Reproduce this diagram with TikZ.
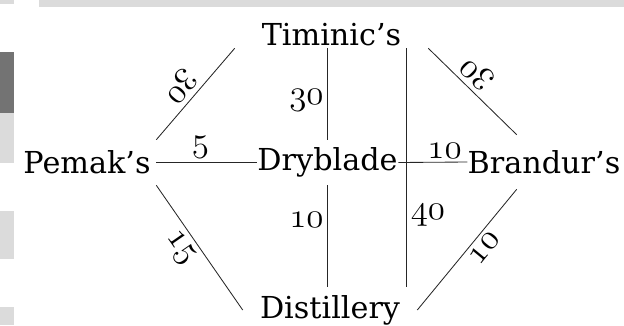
\documentclass[tikz,border=0pt]{standalone}
\usepackage{fontspec}
\setmainfont{DejaVu Serif}
\usepackage{tikz}
\usetikzlibrary{calc}
\newcommand{\dnum}[1]{{\usefont{OML}{cmm}{m}{it}#1}}
\tikzset{
  town/.style={rectangle, inner sep=0pt, align=center, font=\fontsize{21.5}{25}\selectfont},
  road/.style={draw=black!85, line width=0.6pt},
  dist/.style={font=\fontsize{24}{28}\selectfont, inner sep=2.5pt},
  band/.style={fill=black!14, draw=none},
  darkband/.style={fill=black!55, draw=none}
}

\begin{document}
\begin{tikzpicture}[x=0.025cm,y=-0.025cm]
  \useasboundingbox (0,0) rectangle (624,325);

  % screenshot edges
  \fill[band] (0,0) rectangle (14,4);
  \fill[band] (39,0) rectangle (624,7);
  \fill[darkband] (0,52) rectangle (14,113);
  \fill[band] (0,113) rectangle (14,163);
  \fill[band] (0,211) rectangle (14,259);
  \fill[band] (0,307) rectangle (14,325);

  \node[town, minimum width=4.825cm, minimum height=0.65cm] (tim) at (331.5,35) {Timinic’s};
  \node[town, minimum width=3.45cm, minimum height=1.125cm] (pem) at (87,162.5) {Pemak’s};
  \node[town, minimum width=3.525cm, minimum height=1.125cm] (dry) at (327.5,162.5) {Dryblade};
  \node[town, minimum width=3.8cm, minimum height=1.35cm] (bra) at (544,162) {Brandur’s};
  \node[town, minimum width=4.35cm, minimum height=1.15cm] (dis) at (330,310) {Distillery};

  \draw[road] (tim.south west) -- node[dist, sloped, allow upside down, below, inner sep=3.5pt, pos=0.53]{\dnum{30}} (pem.north east);
  \draw[road] (bra.135) -- node[dist, sloped, allow upside down, below, inner sep=3.5pt, pos=0.57]{\dnum{30}} (tim.south east);
  \draw[road] (pem.south east) -- node[dist, sloped, below, inner sep=3.5pt, pos=0.43]{\dnum{15}} (dis.west);
  \draw[road] (dis.east) -- node[dist, sloped, allow upside down, below, inner sep=3.5pt, pos=0.58]{\dnum{10}} (bra.-135);
  \draw[road] (pem.east) -- node[dist, above, pos=0.44]{\dnum{5}} (dry.west);
  \draw[road] (dry.east) -- node[dist, above, pos=0.67]{\dnum{10}} (bra.west);
  \draw[road] (dry.north |- tim.south) -- node[dist, left, pos=0.57]{\dnum{30}} (dry.north);
  \draw[road] (dry.south) -- node[dist, left, pos=0.34]{\dnum{10}} (dry.south |- dis.north);
  \draw[road] (tim.-10.5) -- node[dist, right, pos=0.7]{\dnum{40}} (tim.-10.5 |- dis.north);
\end{tikzpicture}
\end{document}
